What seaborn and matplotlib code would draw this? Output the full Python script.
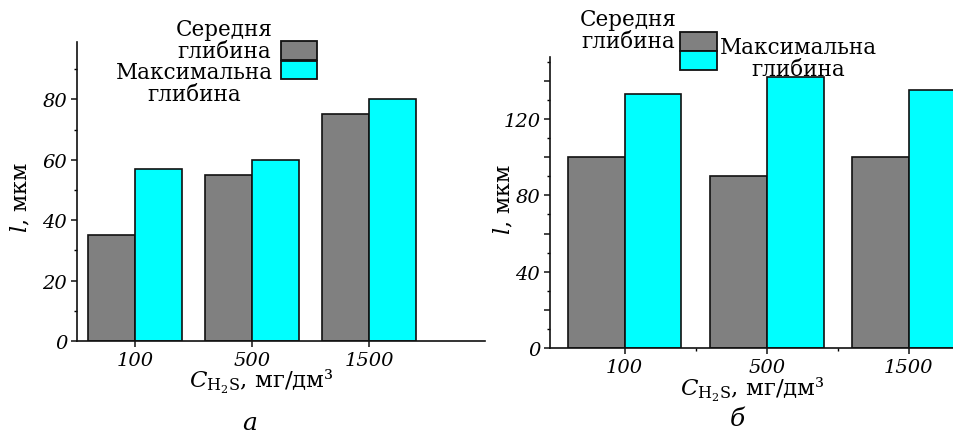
import pandas as pd
import matplotlib
matplotlib.use("Agg")
import matplotlib.pyplot as plt
from matplotlib.patches import Rectangle
from matplotlib.ticker import MultipleLocator, FixedLocator
import seaborn as sns

# --- data ---
concentrations = ["100", "500", "1500"]
series_names = ["Середня глибина", "Максимальна глибина"]
legend_labels = ["Середня\nглибина", "Максимальна\nглибина"]

mean_a = [35, 55, 75]
max_a = [57, 60, 80]
mean_b = [100, 90, 100]
max_b = [133, 142, 135]

colors = ["#808080", "#00FFFF"]

sns.set_style("ticks")
plt.rcParams["font.family"] = ["DejaVu Serif"]
plt.rcParams["mathtext.fontset"] = "dejavuserif"
plt.rcParams["text.color"] = "black"
plt.rcParams["xtick.color"] = "black"
plt.rcParams["ytick.color"] = "black"

W, H = 954, 439
fig = plt.figure(figsize=(W / 100, H / 100), dpi=100)


def fx(px):
    return px / W


def fy(py):
    return 1 - py / H


def make_df(mean_vals, max_vals):
    return pd.DataFrame({
        "conc": concentrations * 2,
        "series": [series_names[0]] * 3 + [series_names[1]] * 3,
        "val": list(mean_vals) + list(max_vals),
    })


def draw_panel(ax, df, ylim, xlim, major, minor, label_every):
    sns.barplot(data=df, x="conc", y="val", hue="series", hue_order=series_names,
                palette=colors, width=0.8, edgecolor="#111111", linewidth=1.2,
                saturation=1, legend=False, ax=ax)
    ax.set_ylim(*ylim)
    ax.set_xlim(*xlim)
    for s in ["top", "right"]:
        ax.spines[s].set_visible(False)
    for s in ["left", "bottom"]:
        ax.spines[s].set_linewidth(1.2)
        ax.spines[s].set_color("#111111")
    ax.yaxis.set_major_locator(MultipleLocator(major))
    ax.yaxis.set_minor_locator(MultipleLocator(minor))
    ax.yaxis.set_major_formatter(
        plt.FuncFormatter(lambda v, p: f"{v:.0f}" if round(v) % label_every == 0 else ""))
    ax.tick_params(axis="both", which="major", direction="out", length=4, width=1.1,
                   labelsize=14, pad=3, color="#111111", labelcolor="black")
    ax.tick_params(axis="y", which="minor", direction="out", length=2.5, width=1)
    for t in ax.get_xticklabels() + ax.get_yticklabels():
        t.set_fontstyle("italic")
    ax.set_xlabel("")
    ax.set_ylabel("")


# --- panel a ---
ax1 = fig.add_axes([fx(77), fy(342), fx(408), (342 - 43) / H])
draw_panel(ax1, make_df(mean_a, max_a), (0, 99), (-0.496, 2.99), 20, 10, 20)

# --- panel b ---
ax2 = fig.add_axes([fx(550), fy(349), fx(420), (349 - 58) / H])
draw_panel(ax2, make_df(mean_b, max_b), (0, 152.5), (-0.524, 2.43), 20, 10, 40)
ax2.xaxis.set_minor_locator(FixedLocator([0.5, 1.5]))
ax2.tick_params(axis="x", which="minor", direction="out", length=2.5, width=1)

# axis labels
ylab = r"$l$, мкм"
xlab = r"$C_{\mathrm{H_2S}}$, мг/дм³"
fig.text(fx(21), fy(198), ylab, rotation=90, ha="center", va="center", fontsize=16)
fig.text(fx(504), fy(200), ylab, rotation=90, ha="center", va="center", fontsize=16)
fig.text(fx(261), fy(382), xlab, ha="center", va="center", fontsize=16.5)
fig.text(fx(752), fy(390), xlab, ha="center", va="center", fontsize=16.5)
fig.text(fx(250), fy(424), "а", ha="center", va="center", fontsize=18, fontstyle="italic")
fig.text(fx(737), fy(420), "б", ha="center", va="center", fontsize=18, fontstyle="italic")


# legends (drawn by hand to match the original layout)
def patch(x0, y0, x1, y1, c):
    fig.patches.append(Rectangle((fx(x0), fy(y1)), fx(x1 - x0), (y1 - y0) / H,
                                 transform=fig.transFigure, facecolor=c,
                                 edgecolor="#111111", linewidth=1.3, zorder=10))


lkw = dict(fontsize=15.5, linespacing=1.0, multialignment="center", zorder=11)

patch(281, 42, 317, 61, colors[0])
patch(281, 62, 317, 80, colors[1])
fig.text(fx(273), fy(41), legend_labels[0], ha="right", va="center", **lkw)
fig.text(fx(273), fy(84), legend_labels[1], ha="right", va="center", **lkw)

patch(680, 33, 717, 52, colors[0])
patch(680, 52, 717, 71, colors[1])
fig.text(fx(677), fy(31), legend_labels[0], ha="right", va="center", **lkw)
fig.text(fx(720), fy(59), legend_labels[1], ha="left", va="center", **lkw)

fig.savefig("out.png", dpi=100)
